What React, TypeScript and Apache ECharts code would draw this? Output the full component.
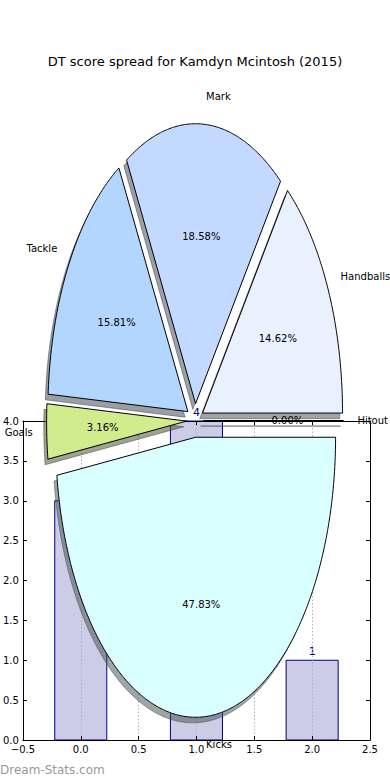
import React, { useEffect, useRef } from 'react';
import * as echarts from 'echarts';

const titleText = 'DT score spread for Kamdyn Mcintosh (2015)';
const watermarkText = 'Dream-Stats.com';

// Pie slices, counter-clockwise from 0 degrees
const pieLabels = ['Hitout', 'Handballs', 'Mark', 'Tackle', 'Goals', 'Kicks'];
const piePercents = [0.0, 14.62, 18.58, 15.81, 3.16, 47.83];
const pieColors = ['#f2e6ff', '#e9f1ff', '#c4d9ff', '#b3d6ff', '#d0ec8c', '#d9ffff'];

// Bar chart
const barPositions = [0, 1, 2];
const barValues = [3, 4, 1];

const FONT = '"DejaVu Sans", "Noto Sans", sans-serif';
const EXPLODE = 0.06;
const SHADOW_DX = -0.02;
const SHADOW_DY = -0.02;
const BAR_WIDTH = 0.45;

const total = piePercents.reduce((a, b) => a + b, 0);
function wedgeAngles(i: number): [number, number] {
  let start = 0;
  for (let j = 0; j < i; j++) start += piePercents[j];
  return [(start / total) * 360, ((start + piePercents[i]) / total) * 360];
}

function shadowColor(hex: string) {
  const r = parseInt(hex.slice(1, 3), 16);
  const g = parseInt(hex.slice(3, 5), 16);
  const b = parseInt(hex.slice(5, 7), 16);
  return `rgba(${Math.round(r * 0.3)},${Math.round(g * 0.3)},${Math.round(b * 0.3)},0.5)`;
}

function makeWedge(shadow: boolean) {
  return (params: any, api: any) => {
    const i = params.dataIndex;
    const [t1, t2] = wedgeAngles(i);
    const tm = (((t1 + t2) / 2) * Math.PI) / 180;
    let cx = EXPLODE * Math.cos(tm);
    let cy = EXPLODE * Math.sin(tm);
    if (shadow) {
      cx += SHADOW_DX;
      cy += SHADOW_DY;
    }
    const pts: number[][] = [api.coord([cx, cy])];
    const n = Math.max(2, Math.ceil((t2 - t1) * 2));
    for (let k = 0; k <= n; k++) {
      const a = ((t1 + ((t2 - t1) * k) / n) * Math.PI) / 180;
      pts.push(api.coord([cx + Math.cos(a), cy + Math.sin(a)]));
    }
    const col = pieColors[i];
    if (shadow) {
      const sc = shadowColor(col);
      return { type: 'polygon', shape: { points: pts }, style: { fill: sc, stroke: sc, lineWidth: 1 } };
    }
    return { type: 'polygon', shape: { points: pts }, style: { fill: col, stroke: '#000', lineWidth: 1 } };
  };
}

function pieText(params: any, api: any) {
  const i = params.dataIndex;
  const [t1, t2] = wedgeAngles(i);
  const tm = (((t1 + t2) / 2) * Math.PI) / 180;
  const ex = EXPLODE * Math.cos(tm);
  const ey = EXPLODE * Math.sin(tm);
  const lx = ex + 1.1 * Math.cos(tm);
  const ly = ey + 1.1 * Math.sin(tm);
  const px = ex + 0.6 * Math.cos(tm);
  const py = ey + 0.6 * Math.sin(tm);
  const lp = api.coord([lx, ly]);
  const pp = api.coord([px, py]);
  return {
    type: 'group',
    children: [
      {
        type: 'text',
        x: lp[0],
        y: lp[1],
        style: {
          text: pieLabels[i],
          textAlign: lx > 0 ? 'left' : 'right',
          textVerticalAlign: 'middle',
          fontSize: 10,
          fontFamily: FONT,
          fill: '#000',
        },
      },
      {
        type: 'text',
        x: pp[0],
        y: pp[1],
        style: {
          text: piePercents[i].toFixed(2) + '%',
          textAlign: 'center',
          textVerticalAlign: 'middle',
          fontSize: 10,
          fontFamily: FONT,
          fill: '#000',
        },
      },
    ],
  };
}

function barItem(params: any, api: any) {
  const x = api.value(0);
  const v = api.value(1);
  const tl = api.coord([x - BAR_WIDTH / 2, v]);
  const br = api.coord([x + BAR_WIDTH / 2, 0]);
  return {
    type: 'group',
    children: [
      {
        type: 'rect',
        shape: { x: tl[0], y: tl[1], width: br[0] - tl[0], height: br[1] - tl[1] },
        style: { fill: 'rgba(0,0,128,0.2)', stroke: '#000080', lineWidth: 1 },
      },
      {
        type: 'text',
        x: (tl[0] + br[0]) / 2,
        y: tl[1] - 3,
        style: {
          text: String(v),
          textAlign: 'center',
          textVerticalAlign: 'bottom',
          fontSize: 11,
          fontFamily: FONT,
          fill: '#000080',
        },
      },
    ],
  };
}

const fmtNum = (v: number) => (v < 0 ? '\u2212' : '') + Math.abs(v).toFixed(1);

export default function App() {
  const ref = useRef<HTMLDivElement>(null);
  useEffect(() => {
    document.body.style.margin = '0';
    const chart = echarts.init(ref.current!, null, { renderer: 'svg' });
    const axisCommon = {
      gridIndex: 0,
      z: 3,
      axisLine: { show: true, onZero: false, lineStyle: { color: '#000', width: 1 } },
      axisTick: { show: true, inside: true, length: 4, lineStyle: { color: '#000' } },
    };
    const labelStyle = { color: '#000', fontSize: 10, fontFamily: FONT };
    const pieData = pieLabels.map(() => [0, 0]);
    chart.setOption({
      animation: false,
      backgroundColor: '#fff',
      grid: [
        { left: 20, top: 421, width: 350, height: 319 },
        { left: 20, top: 70.5, width: 350, height: 700 },
      ],
      xAxis: [
        {
          ...axisCommon,
          type: 'value',
          position: 'bottom',
          min: -0.5,
          max: 2.5,
          interval: 0.5,
          axisLabel: { ...labelStyle, margin: 4, formatter: fmtNum },
          splitLine: { show: true, lineStyle: { color: '#b4b4b4', type: [1.5, 2], width: 1 } },
        },
        {
          ...axisCommon,
          type: 'value',
          position: 'top',
          min: -0.5,
          max: 2.5,
          interval: 0.5,
          axisLabel: { show: false },
          splitLine: { show: false },
        },
        { gridIndex: 1, type: 'value', min: -1.25, max: 1.25, show: false },
      ],
      yAxis: [
        {
          ...axisCommon,
          type: 'value',
          position: 'left',
          min: 0,
          max: 4,
          interval: 0.5,
          axisLabel: { ...labelStyle, margin: 4, formatter: fmtNum },
          splitLine: { show: false },
        },
        {
          ...axisCommon,
          type: 'value',
          position: 'right',
          min: 0,
          max: 4,
          interval: 0.5,
          axisLabel: { show: false },
          splitLine: { show: false },
        },
        { gridIndex: 1, type: 'value', min: -1.25, max: 1.25, show: false },
      ],
      graphic: [
        {
          type: 'text',
          x: 195,
          y: 61,
          z: 20,
          style: {
            text: titleText,
            textAlign: 'center',
            textVerticalAlign: 'middle',
            fontSize: 13,
            fontFamily: FONT,
            fill: '#000',
          },
        },
        {
          type: 'text',
          x: 0,
          y: 770,
          z: 20,
          style: {
            text: watermarkText,
            textAlign: 'left',
            textVerticalAlign: 'middle',
            fontSize: 12,
            fontFamily: FONT,
            fill: '#999999',
          },
        },
      ],
      series: [
        {
          type: 'custom',
          name: 'bars',
          coordinateSystem: 'cartesian2d',
          xAxisIndex: 0,
          yAxisIndex: 0,
          z: 2,
          renderItem: barItem,
          data: barPositions.map((x, i) => [x, barValues[i]]),
        },
        {
          type: 'custom',
          name: 'shadows',
          coordinateSystem: 'cartesian2d',
          xAxisIndex: 2,
          yAxisIndex: 2,
          z: 10,
          renderItem: makeWedge(true),
          data: pieData,
        },
        {
          type: 'custom',
          name: 'wedges',
          coordinateSystem: 'cartesian2d',
          xAxisIndex: 2,
          yAxisIndex: 2,
          z: 11,
          renderItem: makeWedge(false),
          data: pieData,
        },
        {
          type: 'custom',
          name: 'pieTexts',
          coordinateSystem: 'cartesian2d',
          xAxisIndex: 2,
          yAxisIndex: 2,
          z: 12,
          renderItem: pieText,
          data: pieData,
        },
      ],
    });
    return () => chart.dispose();
  }, []);
  return (
    <div
      ref={ref}
      style={{ position: 'absolute', left: 0, top: 0, width: 390, height: 780 }}
    />
  );
}
